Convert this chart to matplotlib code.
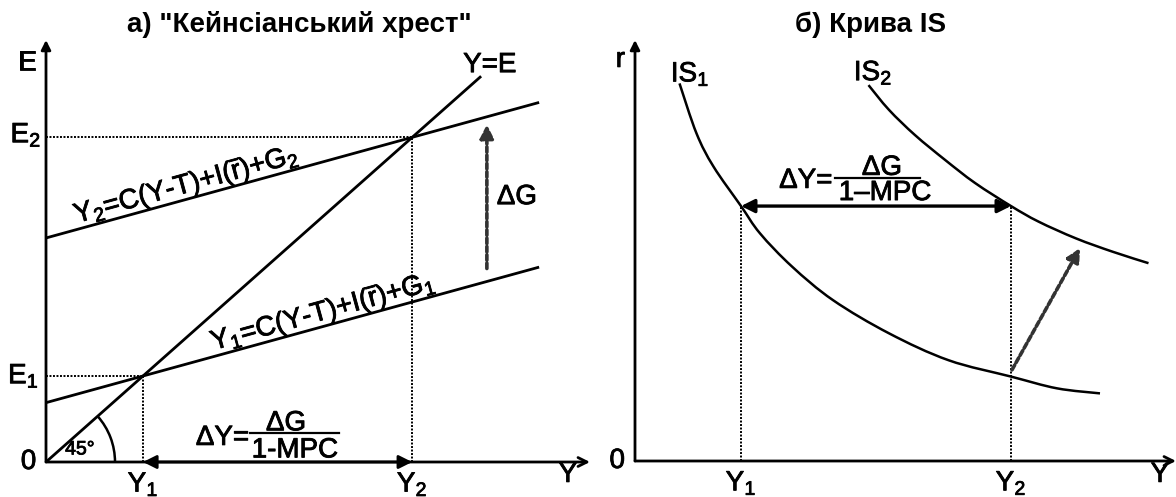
import numpy as np
import matplotlib
matplotlib.use("Agg")
import matplotlib.pyplot as plt
from matplotlib.patches import Arc, PathPatch
from matplotlib.path import Path
import matplotlib.patheffects as pe

plt.rcParams['font.family'] = ['Liberation Sans', 'DejaVu Sans']
plt.rcParams['mathtext.fontset'] = 'custom'
plt.rcParams['mathtext.rm'] = 'Liberation Sans'
plt.rcParams['mathtext.it'] = 'Liberation Sans:italic'
plt.rcParams['mathtext.bf'] = 'Liberation Sans:bold'

# panel a) Keynesian cross (arbitrary units)
y1_cross = 2.0        # Y1 = E1
y2_cross = 7.55       # Y2 = E2
mpc = 0.31
ae1_icpt = 1.38
ae2_icpt = 5.21
ye_end = 8.95         # Y=E line stops here
ae_end = 10.14        # both expenditure lines stop here
dg_x = 9.09
dg_from = 4.5
dg_to = 7.85

# panel b) IS curves
is1_y = [0.89, 1.23, 1.57, 2.12, 2.50, 3.14, 3.96, 5.08, 6.27, 7.52, 8.44, 9.30]
is1_r = [8.99, 7.80, 7.01, 6.07, 5.42, 4.63, 3.83, 3.04, 2.40, 2.01, 1.73, 1.61]
is2_y = [4.67, 5.08, 5.60, 6.20, 6.80, 7.52, 8.07, 8.82, 9.56, 10.27]
is2_r = [8.95, 8.36, 7.76, 7.17, 6.62, 6.07, 5.70, 5.30, 4.98, 4.71]
y1_is = 2.12
y2_is = 7.52
r_is = 6.07
shift_from = (7.54, 2.17)
shift_to = (8.90, 5.07)

LW = 2.0
FS = 20
DOT = (0, (1, 0.8))
# scanned text looks a bit heavier than plain regular weight
THICK = [pe.withStroke(linewidth=0.6, foreground='k')]

fig = plt.figure(figsize=(11.76, 4.97), dpi=100)


def draw_axes(ax, xmax, ymax):
    ax.set_xlim(0, xmax)
    ax.set_ylim(0, ymax)
    ax.axis('off')
    ax.annotate('', xy=(0, ymax), xytext=(0, 0),
                arrowprops=dict(arrowstyle='-|>', lw=LW, color='k',
                                mutation_scale=14, shrinkA=0, shrinkB=0))
    ax.annotate('', xy=(xmax, 0), xytext=(0, 0),
                arrowprops=dict(arrowstyle='->', lw=LW, color='k',
                                mutation_scale=16, shrinkA=0, shrinkB=0))


def smooth_curve(ax, xs, ys, **kw):
    # bezier path through the read points (catmull-rom control points)
    p = np.column_stack([xs, ys])
    verts = [p[0]]
    codes = [Path.MOVETO]
    for i in range(len(p) - 1):
        p0 = p[i - 1] if i > 0 else p[i]
        p3 = p[i + 2] if i + 2 < len(p) else p[i + 1]
        c1 = p[i] + (p[i + 1] - p0) / 6
        c2 = p[i + 1] - (p3 - p[i]) / 6
        verts += [c1, c2, p[i + 1]]
        codes += [Path.CURVE4] * 3
    ax.add_patch(PathPatch(Path(verts, codes), fill=False, **kw))


def label(ax, x, y, s, **kw):
    kw.setdefault('fontsize', FS)
    kw.setdefault('ha', 'center')
    kw.setdefault('va', 'center')
    return ax.text(x, y, s, path_effects=THICK, **kw)


def eq_label(ax, x, y, text):
    label(ax, x, y, text, va='baseline',
          rotation=np.degrees(np.arctan(mpc)), transform_rotates_text=True,
          rotation_mode='anchor')


# ---------------- a) ----------------
axA = fig.add_axes([46 / 1176, 35 / 497, 544 / 1176, 422 / 497])
xa, ya = 544 / 48.5, 422 / 43
draw_axes(axA, xa, ya)

axA.plot([0, ye_end], [0, ye_end], color='k', lw=LW)
xs = np.array([0, ae_end])
axA.plot(xs, ae1_icpt + mpc * xs, color='k', lw=LW)
axA.plot(xs, ae2_icpt + mpc * xs, color='k', lw=LW)

for v in (y1_cross, y2_cross):
    axA.plot([0, v], [v, v], color='k', lw=1.4, ls=DOT)
    axA.plot([v, v], [0, v], color='k', lw=1.4, ls=DOT)

axA.annotate('', xy=(y2_cross, 0), xytext=(y1_cross, 0),
             arrowprops=dict(arrowstyle='<|-|>', lw=LW, color='k',
                             mutation_scale=20, shrinkA=0, shrinkB=0))
axA.annotate('', xy=(dg_x, dg_to), xytext=(dg_x, dg_from),
             arrowprops=dict(arrowstyle='-|>', lw=2.6, color='#333333', ls=(0, (1.5, 0.8)),
                             mutation_scale=20, shrinkA=0, shrinkB=0))

axA.add_patch(Arc((0, 0), 2 * 69 / 48.5, 2 * 69 / 43, theta1=0, theta2=45, lw=1.8, color='k'))
label(axA, 0.70, 0.28, '45°', fontsize=14)

eq_label(axA, 2.93, ae2_icpt + mpc * 2.93 + 0.15,
         'Y$_2$=C(Y-T)+I($\\overline{\\mathrm{r}}$)+G$_2$')
eq_label(axA, 5.75, ae1_icpt + mpc * 5.75 + 0.15,
         'Y$_1$=C(Y-T)+I($\\overline{\\mathrm{r}}$)+G$_1$')
label(axA, 9.15, 9.23, 'Y=E')
label(axA, 9.71, 6.16, 'ΔG')

label(axA, -0.2, 9.28, 'E', ha='right')
label(axA, -0.1, (462 - 135) / 43, 'E$_2$', ha='right')
label(axA, -0.15, y1_cross, 'E$_1$', ha='right')
label(axA, -0.2, 0, '0', ha='right')
label(axA, y1_cross, -0.2, 'Y$_1$', va='top')
label(axA, y2_cross, -0.2, 'Y$_2$', va='top')
label(axA, 10.76, -0.3, 'Y')

label(axA, 4.19, 0.56, 'ΔY=', ha='right')
axA.plot([4.21, 6.04], [0.67, 0.67], color='k', lw=1.6)
label(axA, 4.95, 0.90, 'ΔG')
label(axA, 5.13, 0.27, '1-MPC')

axA.text(5.22, 10.17, 'а) "Кейнсіанський хрест"', fontsize=20, fontweight='bold',
         ha='center', va='center')

# ---------------- б) ----------------
axB = fig.add_axes([635 / 1176, 36 / 497, 541 / 1176, 421 / 497])
xb, yb = 541 / 50, 421 / 42
draw_axes(axB, xb, yb)

smooth_curve(axB, is1_y, is1_r, color='k', lw=1.8)
smooth_curve(axB, is2_y, is2_r, color='k', lw=1.8)
for v in (y1_is, y2_is):
    axB.plot([v, v], [0, r_is], color='k', lw=1.4, ls=DOT)
axB.annotate('', xy=(y2_is, r_is), xytext=(y1_is, r_is),
             arrowprops=dict(arrowstyle='<|-|>', lw=2.4, color='k',
                             mutation_scale=20, shrinkA=0, shrinkB=0))
axB.annotate('', xy=shift_to, xytext=shift_from,
             arrowprops=dict(arrowstyle='-|>', lw=2.6, color='#333333', ls=(0, (1.5, 0.8)),
                             mutation_scale=20, shrinkA=0, shrinkB=0))

label(axB, 1.1, 9.21, 'IS$_1$')
label(axB, 4.76, 9.24, 'IS$_2$')
label(axB, -0.2, 9.55, 'r', ha='right')
label(axB, -0.2, 0, '0', ha='right')
label(axB, y1_is, -0.2, 'Y$_1$', va='top')
label(axB, y2_is, -0.2, 'Y$_2$', va='top')
label(axB, 10.5, -0.33, 'Y')

label(axB, 3.95, 6.67, 'ΔY=', ha='right')
axB.plot([4.0, 5.7], [6.74, 6.74], color='k', lw=1.6)
label(axB, 4.94, 6.98, 'ΔG')
label(axB, 5.0, 6.38, '1–MPC')

axB.text(4.72, 10.38, 'б) Крива IS', fontsize=20, fontweight='bold',
         ha='center', va='center')

fig.savefig('out.png', dpi=100, facecolor='white')
